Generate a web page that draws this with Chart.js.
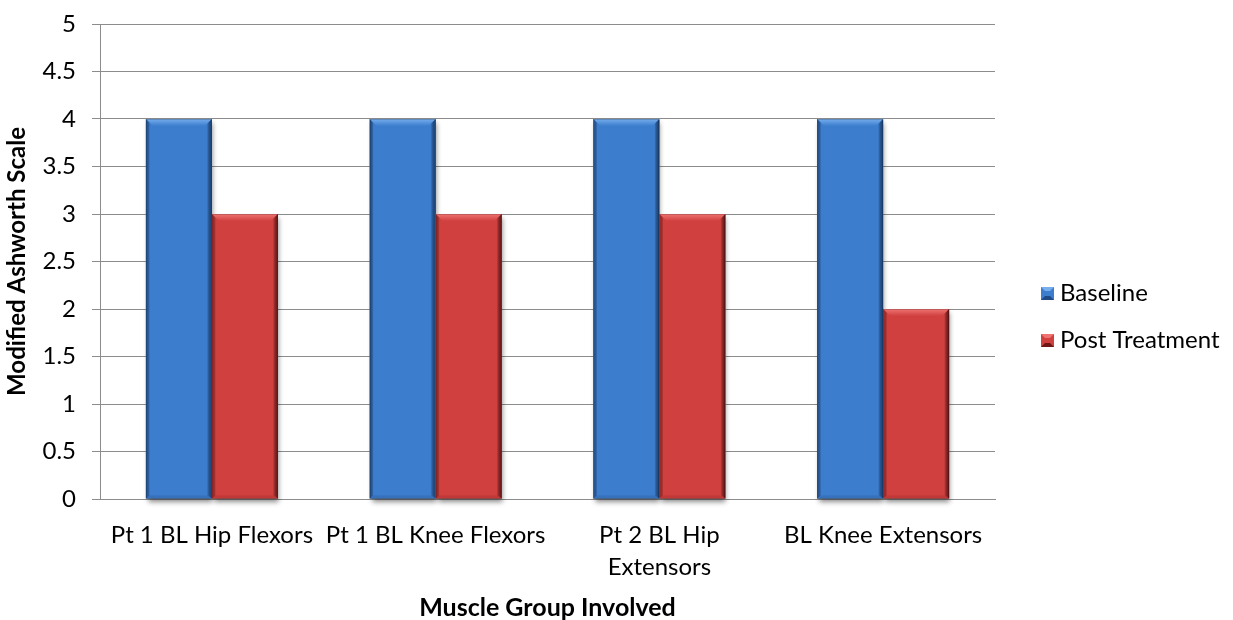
<!DOCTYPE html>
<html>
<head>
<meta charset="utf-8">
<script src="https://cdn.jsdelivr.net/npm/chart.js@4.4.1/dist/chart.umd.min.js"></script>
<style>
  html, body { margin: 0; padding: 0; background: #ffffff; }
  #wrap { width: 1233px; height: 620px; }
</style>
</head>
<body>
<div id="wrap"><canvas id="c" width="1233" height="620"></canvas></div>
<script>
// Muscle groups on the x axis (multi-line where the label wraps)
const categories = [
  ["Pt 1 BL Hip Flexors"],
  ["Pt 1 BL Knee Flexors"],
  ["Pt 2 BL Hip", "Extensors"],
  ["BL Knee Extensors"]
];
// Modified Ashworth Scale scores
const baseline = [4, 4, 4, 4];
const postTreatment = [3, 3, 3, 2];
const seriesNames = ["Baseline", "Post Treatment"];
// y axis range and tick spacing
const yMin = 0;
const yMax = 5;
const yStep = 0.5;

const FONT = "Lato, 'Open Sans', 'Liberation Sans', sans-serif";

// palette for the bevelled bars
const palette = [
  { body: "#3c7dcd", light: "#76aeee", edgeL: "#2a5fa6", edgeR: "#2b5e9f", bottom: "#3369b1", dark: "#1f4a85" },
  { body: "#d0403f", light: "#ee7472", edgeL: "#b73232", edgeR: "#8e2323", bottom: "#b53333", dark: "#6e1616" }
];

function barGradient(ctx, i) {
  const chart = ctx.chart;
  const el = ctx.element;
  const p = palette[i];
  if (!el || el.width === undefined || isNaN(el.x)) return p.body;
  const x0 = el.x - el.width / 2, x1 = el.x + el.width / 2;
  const g = chart.ctx.createLinearGradient(x0, 0, x1, 0);
  g.addColorStop(0, p.edgeL);
  g.addColorStop(0.08, p.body);
  g.addColorStop(0.5, p.body);
  g.addColorStop(0.92, p.body);
  g.addColorStop(1, p.edgeR);
  return g;
}

// soft shadow under each bar
const shadowPlugin = {
  id: "barShadow",
  beforeDatasetsDraw(chart) {
    const ctx = chart.ctx;
    ctx.save();
    chart.data.datasets.forEach((ds, di) => {
      chart.getDatasetMeta(di).data.forEach(el => {
        const x0 = el.x - el.width / 2;
        ctx.shadowColor = "rgba(0,0,0,0.45)";
        ctx.shadowBlur = 5;
        ctx.shadowOffsetX = 1;
        ctx.shadowOffsetY = 3;
        ctx.fillStyle = "rgba(120,120,120,1)";
        ctx.fillRect(x0 + 1, el.y + 1, el.width - 1, el.base - el.y - 1);
      });
    });
    ctx.restore();
  }
};

// bevel facets drawn over each bar
const bevelPlugin = {
  id: "bevel",
  afterDatasetsDraw(chart) {
    const ctx = chart.ctx;
    const b = 7;
    ctx.save();
    chart.data.datasets.forEach((ds, di) => {
      const p = palette[di];
      chart.getDatasetMeta(di).data.forEach(el => {
        const x0 = el.x - el.width / 2, x1 = el.x + el.width / 2;
        const y0 = el.y, y1 = el.base;
        // top facet
        const gt = ctx.createLinearGradient(0, y0, 0, y0 + b);
        gt.addColorStop(0, p.light);
        gt.addColorStop(1, p.body);
        ctx.fillStyle = gt;
        ctx.beginPath();
        ctx.moveTo(x0, y0); ctx.lineTo(x1, y0); ctx.lineTo(x1 - b, y0 + b); ctx.lineTo(x0 + b, y0 + b);
        ctx.closePath(); ctx.fill();
        // left facet
        const gl = ctx.createLinearGradient(x0, 0, x0 + 4, 0);
        gl.addColorStop(0, p.edgeL);
        gl.addColorStop(1, "rgba(0,0,0,0)");
        ctx.fillStyle = gl;
        ctx.beginPath();
        ctx.moveTo(x0, y0); ctx.lineTo(x0 + 4, y0 + 4); ctx.lineTo(x0 + 4, y1 - 3); ctx.lineTo(x0, y1);
        ctx.closePath(); ctx.fill();
        // right facet
        const gr = ctx.createLinearGradient(x1 - 5, 0, x1, 0);
        gr.addColorStop(0, "rgba(0,0,0,0)");
        gr.addColorStop(1, p.dark);
        ctx.fillStyle = gr;
        ctx.beginPath();
        ctx.moveTo(x1, y0); ctx.lineTo(x1 - 5, y0 + 5); ctx.lineTo(x1 - 5, y1 - 3); ctx.lineTo(x1, y1);
        ctx.closePath(); ctx.fill();
        // bottom facet
        ctx.fillStyle = p.bottom;
        ctx.globalAlpha = 0.6;
        ctx.beginPath();
        ctx.moveTo(x0, y1); ctx.lineTo(x1, y1); ctx.lineTo(x1 - 3, y1 - 3); ctx.lineTo(x0 + 3, y1 - 3);
        ctx.closePath(); ctx.fill();
        ctx.globalAlpha = 1;
        // thin outline
        ctx.strokeStyle = "rgba(0,0,0,0.18)";
        ctx.lineWidth = 1;
        ctx.strokeRect(Math.round(x0) + 0.5, Math.round(y0) + 0.5, Math.round(x1 - x0) - 1, Math.round(y1 - y0) - 1);
      });
    });
    ctx.restore();
  }
};

// legend drawn at the right of the plot
const legendPlugin = {
  id: "sideLegend",
  afterDraw(chart) {
    const ctx = chart.ctx;
    const area = chart.chartArea;
    const x = area.right + 46;
    const ys = [293, 340];
    ctx.save();
    ctx.font = "24px " + FONT;
    ctx.textBaseline = "middle";
    ctx.textAlign = "left";
    seriesNames.forEach((name, i) => {
      const p = palette[i];
      const s = 13;
      const bx = x, by = ys[i] - 6;
      ctx.fillStyle = p.body;
      ctx.fillRect(bx, by, s, s);
      // small bevel on the marker
      ctx.fillStyle = p.light;
      ctx.beginPath();
      ctx.moveTo(bx, by); ctx.lineTo(bx + s, by); ctx.lineTo(bx + s - 4, by + 4); ctx.lineTo(bx + 4, by + 4);
      ctx.closePath(); ctx.fill();
      ctx.fillStyle = p.dark;
      ctx.beginPath();
      ctx.moveTo(bx, by + s); ctx.lineTo(bx + s, by + s); ctx.lineTo(bx + s - 4, by + s - 4); ctx.lineTo(bx + 4, by + s - 4);
      ctx.closePath(); ctx.fill();
      ctx.fillStyle = "#000000";
      ctx.fillText(name, x + 19, ys[i]);
    });
    ctx.restore();
  }
};

new Chart(document.getElementById("c"), {
  type: "bar",
  data: {
    labels: categories,
    datasets: [
      {
        label: seriesNames[0],
        data: baseline,
        backgroundColor: ctx => barGradient(ctx, 0),
        borderWidth: 0
      },
      {
        label: seriesNames[1],
        data: postTreatment,
        backgroundColor: ctx => barGradient(ctx, 1),
        borderWidth: 0
      }
    ]
  },
  options: {
    responsive: false,
    animation: false,
    devicePixelRatio: 1,
    layout: { padding: { left: 0, right: 238, top: 24, bottom: 0 } },
    datasets: { bar: { categoryPercentage: 0.59, barPercentage: 1.0 } },
    plugins: {
      legend: { display: false },
      tooltip: { enabled: false }
    },
    scales: {
      x: {
        grid: { display: false, drawTicks: false },
        border: { display: true, color: "#8c8c8c", width: 1 },
        ticks: {
          color: "#000000",
          font: { family: FONT, size: 24, lineHeight: 1.3 },
          padding: 21,
          maxRotation: 0,
          autoSkip: false
        },
        title: {
          display: true,
          text: "Muscle Group Involved",
          color: "#000000",
          font: { family: FONT, size: 25, weight: "bold", lineHeight: 1.0 },
          padding: { top: 0, bottom: 0 }
        },
        afterFit(scale) { scale.height = 121; }
      },
      y: {
        min: yMin,
        max: yMax,
        grid: { color: "#8c8c8c", lineWidth: 1, tickLength: 8, drawTicks: true },
        border: { display: true, color: "#8c8c8c", width: 1 },
        ticks: {
          stepSize: yStep,
          color: "#000000",
          font: { family: FONT, size: 24 },
          padding: 16,
          callback: v => String(v)
        },
        title: {
          display: true,
          text: "Modified Ashworth Scale",
          color: "#000000",
          font: { family: FONT, size: 24, weight: "bold", lineHeight: 1.0 },
          padding: { top: 5, bottom: 0 }
        },
        afterFit(scale) {
          scale.width = 100;
          scale.paddingTop = 0;
          scale.paddingBottom = 0;
        }
      }
    }
  },
  plugins: [shadowPlugin, bevelPlugin, legendPlugin]
});
</script>
</body>
</html>
